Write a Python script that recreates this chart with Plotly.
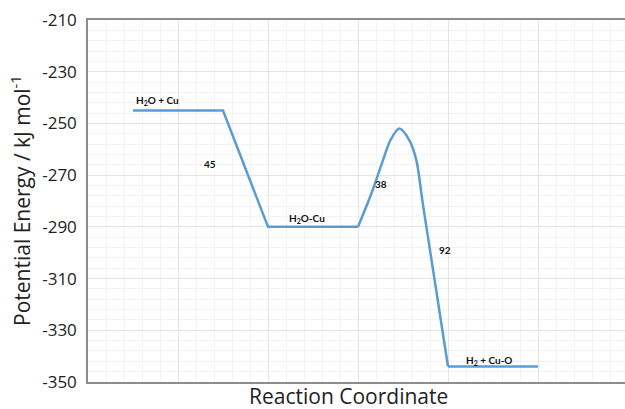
import plotly.graph_objects as go

# Energy profile of water dissociation on copper (kJ/mol)
path_x = [0.5, 1.5, 2.0, 3.0]
path_y = [-245, -245, -290, -290]

# transition-state hump between H2O-Cu and H2 + Cu-O
hump_x = [3.0, 3.15, 3.28, 3.36, 3.46, 3.57, 3.65, 3.72, 4.0]
hump_y = [-290, -277, -264, -256.5, -252, -256.5, -264.5, -281, -344]

product_x = [4.0, 5.0]
product_y = [-344, -344]

state_labels = ["H<sub>2</sub>O + Cu", "H<sub>2</sub>O-Cu", "H<sub>2</sub> + Cu-O"]
barrier_labels = ["45", "38", "92"]

y_ticks = [-350, -330, -310, -290, -270, -250, -230, -210]
y_tick_text = [str(v) for v in y_ticks]

line_style = dict(color="#5b9bd5", width=2.5)

fig = go.Figure()
fig.add_trace(go.Scatter(x=path_x, y=path_y, mode="lines", line=line_style, hoverinfo="skip"))
fig.add_trace(go.Scatter(x=hump_x, y=hump_y, mode="lines",
                         line=dict(line_style, shape="spline", smoothing=0.8), hoverinfo="skip"))
fig.add_trace(go.Scatter(x=product_x, y=product_y, mode="lines", line=line_style, hoverinfo="skip"))

label_font = dict(family="Lato, Open Sans, sans-serif", size=10, color="#111111")
state_pos = [(0.775, -241.3), (2.43, -286.6), (4.45, -341.5)]
barrier_pos = [(1.36, -265.7), (3.26, -273.4), (3.97, -298.9)]
for text, (x, y) in zip(state_labels + barrier_labels, state_pos + barrier_pos):
    fig.add_annotation(x=x, y=y, text="<b>" + text + "</b>", showarrow=False,
                       font=label_font, xanchor="center", yanchor="middle")

title_font = dict(family="Open Sans, sans-serif", size=21, color="#222222")
fig.add_annotation(xref="paper", yref="paper", x=0.485, y=0, yshift=-14,
                   text="Reaction Coordinate", showarrow=False, font=title_font,
                   xanchor="center", yanchor="middle")
fig.add_annotation(xref="paper", yref="paper", x=0, xshift=-68, y=0.5, yshift=0,
                   text="Potential Energy / kJ mol<sup>-1</sup>", showarrow=False,
                   font=title_font, textangle=-90, xanchor="center", yanchor="middle")

fig.update_layout(
    width=625, height=409,
    margin=dict(l=88, r=0, t=20, b=27),
    paper_bgcolor="white", plot_bgcolor="white",
    showlegend=False,
    xaxis=dict(range=[0, 537 / 90], dtick=1, tick0=0, showticklabels=False,
               showgrid=True, gridcolor="#e4e4e4", gridwidth=1,
               minor=dict(dtick=0.2, showgrid=True, gridcolor="#f3f3f3", gridwidth=1),
               showline=True, linecolor="#8c8c8c", linewidth=1.5, mirror=True,
               zeroline=False, ticks=""),
    yaxis=dict(range=[-350, -210], tickvals=y_ticks, ticktext=y_tick_text,
               showgrid=True, gridcolor="#e4e4e4", gridwidth=1,
               minor=dict(dtick=4, tick0=-350, showgrid=True, gridcolor="#f3f3f3", gridwidth=1),
               showline=True, linecolor="#8c8c8c", linewidth=1.5,
               zeroline=False, ticks="", ticklabelstandoff=6,
               tickfont=dict(family="Open Sans, sans-serif", size=17, color="#222222")),
)

fig.write_html("out.html")
